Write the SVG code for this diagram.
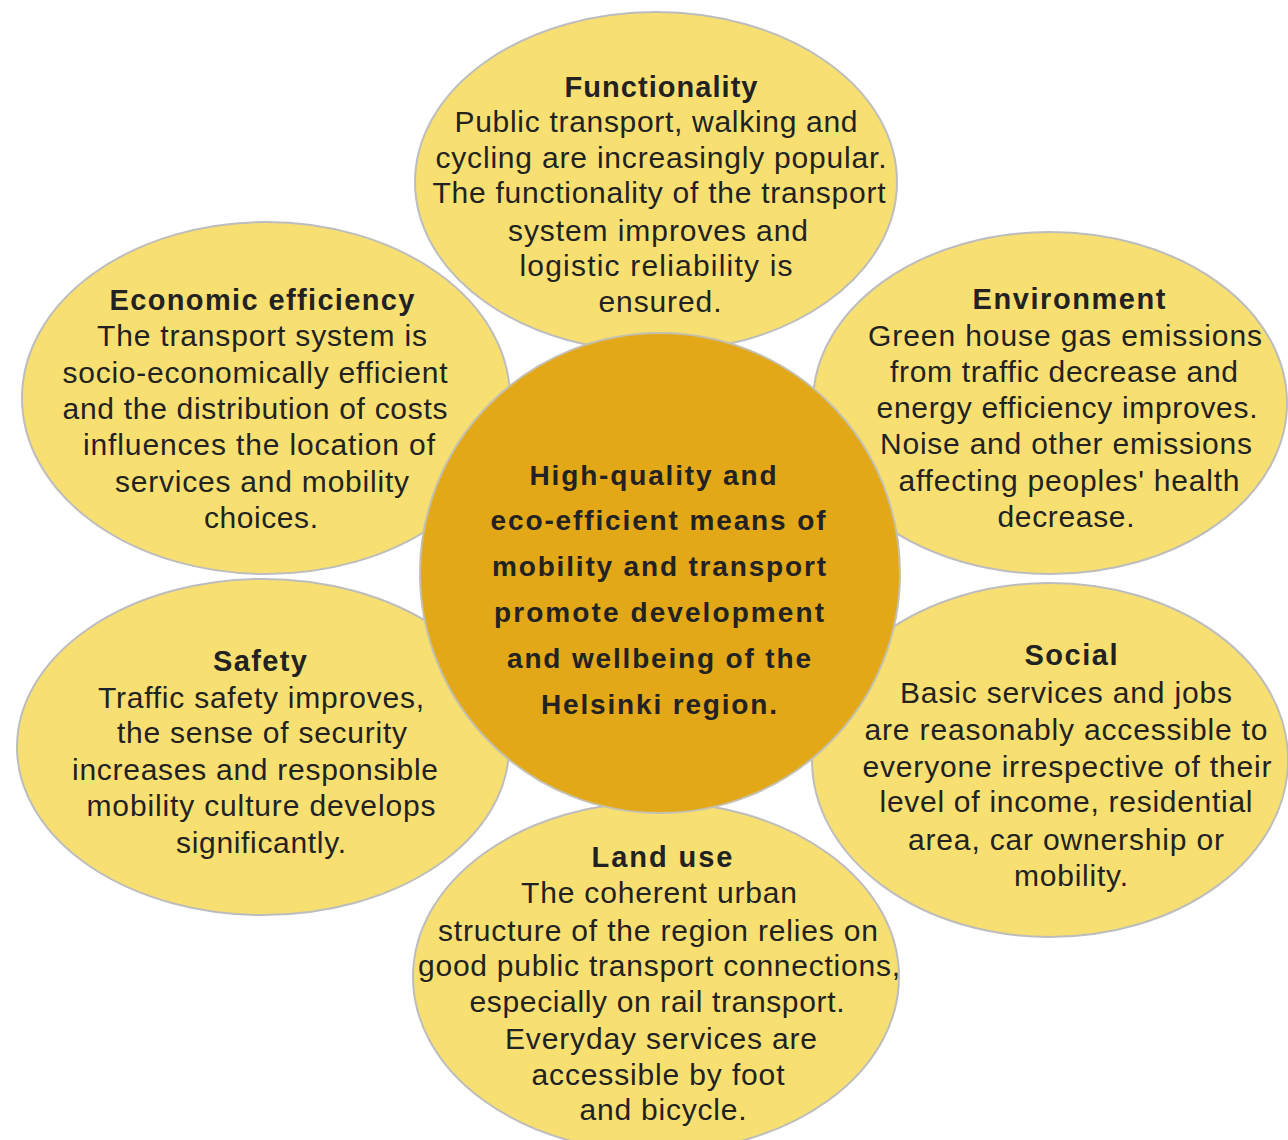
<svg xmlns="http://www.w3.org/2000/svg" width="1288" height="1140" viewBox="0 0 1288 1140">
<style>
.petal{fill:#F7E071;stroke:#BDBDBD;stroke-width:2}
.core{fill:#E3A817;stroke:#C4C0B0;stroke-width:2}
text{font-family:"Liberation Sans",Arial,sans-serif;fill:#222;text-anchor:middle}
.t{font-size:29px;font-weight:bold}
.b{font-size:30px}
.c{font-size:28px;font-weight:bold}
</style>
<rect width="1288" height="1140" fill="#fff"/>
<g id="functionality">
<ellipse class="petal" cx="656" cy="182" rx="241" ry="170"/>
<text class="t" x="661" y="97" textLength="193" lengthAdjust="spacing">Functionality</text>
<text class="b" x="656" y="132" textLength="403" lengthAdjust="spacing">Public transport, walking and</text>
<text class="b" x="661" y="168" textLength="451" lengthAdjust="spacing">cycling are increasingly popular.</text>
<text class="b" x="659" y="203" textLength="453" lengthAdjust="spacing">The functionality of the transport</text>
<text class="b" x="658" y="241" textLength="300" lengthAdjust="spacing">system improves and</text>
<text class="b" x="656" y="276" textLength="273" lengthAdjust="spacing">logistic reliability is</text>
<text class="b" x="660" y="312" textLength="123" lengthAdjust="spacing">ensured.</text>
</g>
<g id="economic-efficiency">
<ellipse class="petal" cx="266" cy="398" rx="244" ry="176"/>
<text class="t" x="262" y="310" textLength="305" lengthAdjust="spacing">Economic efficiency</text>
<text class="b" x="262" y="346" textLength="330" lengthAdjust="spacing">The transport system is</text>
<text class="b" x="255" y="383" textLength="385" lengthAdjust="spacing">socio-economically efficient</text>
<text class="b" x="255" y="419" textLength="385" lengthAdjust="spacing">and the distribution of costs</text>
<text class="b" x="259" y="455" textLength="352" lengthAdjust="spacing">influences the location of</text>
<text class="b" x="262" y="492" textLength="294" lengthAdjust="spacing">services and mobility</text>
<text class="b" x="261" y="528" textLength="114" lengthAdjust="spacing">choices.</text>
</g>
<g id="environment">
<ellipse class="petal" cx="1050" cy="403" rx="237" ry="171"/>
<text class="t" x="1069" y="309" textLength="193" lengthAdjust="spacing">Environment</text>
<text class="b" x="1065" y="346" textLength="394" lengthAdjust="spacing">Green house gas emissions</text>
<text class="b" x="1064" y="382" textLength="348" lengthAdjust="spacing">from traffic decrease and</text>
<text class="b" x="1067" y="418" textLength="381" lengthAdjust="spacing">energy efficiency improves.</text>
<text class="b" x="1066" y="454" textLength="372" lengthAdjust="spacing">Noise and other emissions</text>
<text class="b" x="1069" y="491" textLength="341" lengthAdjust="spacing">affecting peoples' health</text>
<text class="b" x="1066" y="527" textLength="137" lengthAdjust="spacing">decrease.</text>
</g>
<g id="safety">
<ellipse class="petal" cx="263" cy="747" rx="246" ry="168"/>
<text class="t" x="260" y="671" textLength="94" lengthAdjust="spacing">Safety</text>
<text class="b" x="261" y="708" textLength="326" lengthAdjust="spacing">Traffic safety improves,</text>
<text class="b" x="262" y="743" textLength="290" lengthAdjust="spacing">the sense of security</text>
<text class="b" x="255" y="780" textLength="366" lengthAdjust="spacing">increases and responsible</text>
<text class="b" x="261" y="816" textLength="349" lengthAdjust="spacing">mobility culture develops</text>
<text class="b" x="261" y="853" textLength="170" lengthAdjust="spacing">significantly.</text>
</g>
<g id="social">
<ellipse class="petal" cx="1050" cy="760" rx="238" ry="177"/>
<text class="t" x="1071" y="665" textLength="93" lengthAdjust="spacing">Social</text>
<text class="b" x="1066" y="703" textLength="332" lengthAdjust="spacing">Basic services and jobs</text>
<text class="b" x="1066" y="740" textLength="403" lengthAdjust="spacing">are reasonably accessible to</text>
<text class="b" x="1067" y="777" textLength="409" lengthAdjust="spacing">everyone irrespective of their</text>
<text class="b" x="1066" y="812" textLength="373" lengthAdjust="spacing">level of income, residential</text>
<text class="b" x="1066" y="850" textLength="316" lengthAdjust="spacing">area, car ownership or</text>
<text class="b" x="1071" y="886" textLength="114" lengthAdjust="spacing">mobility.</text>
</g>
<g id="land-use">
<ellipse class="petal" cx="656" cy="977" rx="243" ry="175"/>
<text class="t" x="662" y="867" textLength="141" lengthAdjust="spacing">Land use</text>
<text class="b" x="659" y="903" textLength="276" lengthAdjust="spacing">The coherent urban</text>
<text class="b" x="658" y="941" textLength="440" lengthAdjust="spacing">structure of the region relies on</text>
<text class="b" x="659" y="976" textLength="482" lengthAdjust="spacing">good public transport connections,</text>
<text class="b" x="657" y="1012" textLength="375" lengthAdjust="spacing">especially on rail transport.</text>
<text class="b" x="661" y="1049" textLength="312" lengthAdjust="spacing">Everyday services are</text>
<text class="b" x="658" y="1085" textLength="253" lengthAdjust="spacing">accessible by foot</text>
<text class="b" x="663" y="1120" textLength="167" lengthAdjust="spacing">and bicycle.</text>
</g>
<g id="center">
<circle class="core" cx="660" cy="573" r="240"/>
<text class="c" x="653" y="485" textLength="247" lengthAdjust="spacing">High-quality and</text>
<text class="c" x="658" y="530" textLength="335" lengthAdjust="spacing">eco-efficient means of</text>
<text class="c" x="659" y="576" textLength="334" lengthAdjust="spacing">mobility and transport</text>
<text class="c" x="659" y="622" textLength="330" lengthAdjust="spacing">promote development</text>
<text class="c" x="659" y="668" textLength="304" lengthAdjust="spacing">and wellbeing of the</text>
<text class="c" x="659" y="714" textLength="236" lengthAdjust="spacing">Helsinki region.</text>
</g>
<g id="connectors"></g>
</svg>
